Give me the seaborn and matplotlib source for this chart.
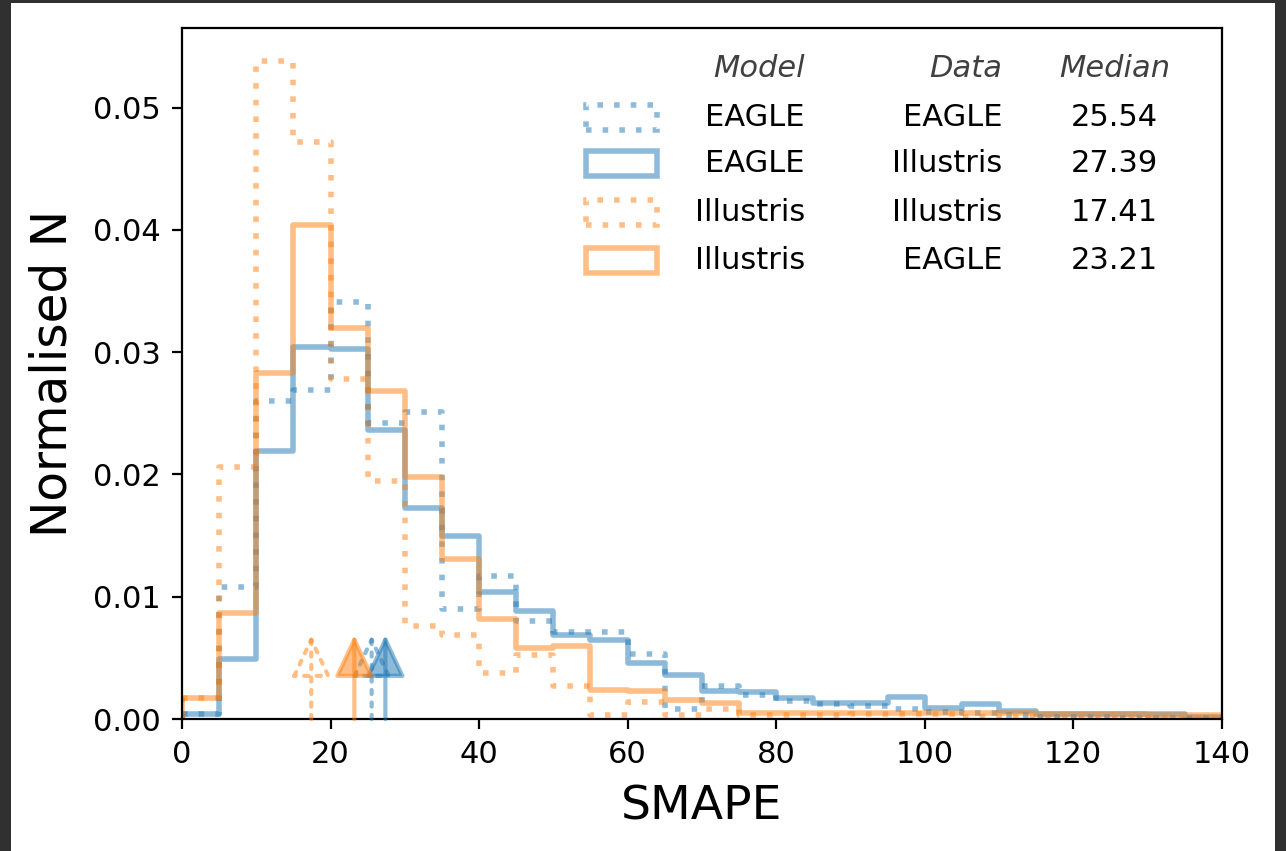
import numpy as np
import pandas as pd
import matplotlib
matplotlib.use("Agg")
import matplotlib.pyplot as plt
from matplotlib.patches import Rectangle
import seaborn as sns

# ---- data (normalised bin heights, bins of width 5 from 0 to 140) ----
bin_edges = list(range(0, 145, 5))
eagle_eagle = [0.0004, 0.0108, 0.0260, 0.0269, 0.0341, 0.0242, 0.0251, 0.0090,
               0.0117, 0.0080, 0.0071, 0.0071, 0.0053, 0.0008, 0.0027, 0.0020,
               0.0015, 0.0012, 0.0011, 0.0008, 0.0006, 0.0005, 0.0003, 0.0002,
               0.0002, 0.0001, 0.0001, 0.0001]
eagle_illustris = [0.0004, 0.0049, 0.0219, 0.0304, 0.0303, 0.0236, 0.0173, 0.0150,
                   0.0104, 0.0088, 0.0069, 0.0065, 0.0046, 0.0036, 0.0023, 0.0022,
                   0.0017, 0.0013, 0.0013, 0.0018, 0.0009, 0.0012, 0.0007, 0.0004,
                   0.0004, 0.0004, 0.0004, 0.0002]
illustris_illustris = [0.0017, 0.0206, 0.0538, 0.0472, 0.0278, 0.0195, 0.0076, 0.0069,
                       0.0038, 0.0052, 0.0027, 0.0003, 0.0014, 0.0003, 0.0008, 0.0003,
                       0.0003, 0.0003, 0.0004, 0.0004, 0.0004, 0.0002, 0.0002, 0.0001,
                       0.0001, 0.0001, 0.0001, 0.0001]
illustris_eagle = [0.0017, 0.0087, 0.0283, 0.0404, 0.0320, 0.0268, 0.0198, 0.0131,
                   0.0082, 0.0058, 0.0060, 0.0024, 0.0023, 0.0016, 0.0013, 0.0005,
                   0.0005, 0.0005, 0.0005, 0.0005, 0.0005, 0.0005, 0.0005, 0.0004,
                   0.0004, 0.0004, 0.0003, 0.0003]

models = ["EAGLE", "EAGLE", "Illustris", "Illustris"]
datas = ["EAGLE", "Illustris", "Illustris", "EAGLE"]
medians = [25.54, 27.39, 17.41, 23.21]
series = [eagle_eagle, eagle_illustris, illustris_illustris, illustris_eagle]

blue = "#1f77b4"
orange = "#ff7f0e"
colors = [blue, blue, orange, orange]
dotted = (0, (1, 2))
styles = [dotted, "-", dotted, "-"]
LW = 4.0
ALPHA = 0.5

fig = plt.figure(figsize=(12.86, 8.51), dpi=100)
ax = fig.add_axes([0.1415, 0.155, 0.8085, 0.812])

edges = np.array(bin_edges, dtype=float)
centers = (edges[:-1] + edges[1:]) / 2
for vals, c, ls in zip(series, colors, styles):
    df = pd.DataFrame({"x": centers, "w": vals})
    sns.histplot(data=df, x="x", weights="w", bins=bin_edges, element="step",
                 fill=False, color=c, linestyle=ls, linewidth=LW, alpha=ALPHA,
                 ax=ax, stat="count")
    # close the step outline down to zero at both ends
    ax.vlines([edges[0], edges[-1]], 0, [vals[0], vals[-1]], colors=c,
              linestyles=ls, linewidth=LW, alpha=ALPHA)

# median arrows
for m, c, ls in zip(medians, colors, styles):
    fc = "none" if ls == dotted else c
    ax.annotate("", xy=(m, 0.0069), xytext=(m, 0.0),
                arrowprops=dict(arrowstyle="-|>,head_width=0.68,head_length=1.45",
                                mutation_scale=18, linewidth=3.0, linestyle=ls,
                                edgecolor=c, facecolor=fc, alpha=ALPHA,
                                shrinkA=0, shrinkB=0))

ax.set_xlim(0, 140)
ax.set_ylim(0, 0.0565)
ax.set_xticks([0, 20, 40, 60, 80, 100, 120, 140])
ax.set_yticks([0.0, 0.01, 0.02, 0.03, 0.04, 0.05])
ax.set_yticklabels(["0.00", "0.01", "0.02", "0.03", "0.04", "0.05"])
ax.tick_params(labelsize=22, width=1.6, length=7, pad=8)
for s in ax.spines.values():
    s.set_linewidth(1.6)
ax.set_xlabel("SMAPE", fontsize=34, labelpad=11)
ax.set_ylabel("Normalised N", fontsize=35, labelpad=12)

# custom table-style legend
hx, hw, hh = 0.389, 0.068, 0.036
rows_y = [0.871, 0.804, 0.733, 0.664]
head_y = 0.941
hdr_kw = dict(transform=ax.transAxes, fontsize=22, style="italic",
              color="#404040", va="center")
ax.text(0.599, head_y, "Model", ha="right", **hdr_kw)
ax.text(0.789, head_y, "Data", ha="right", **hdr_kw)
ax.text(0.897, head_y, "Median", ha="center", **hdr_kw)
for y, c, ls, mo, da, me in zip(rows_y, colors, styles, models, datas, medians):
    ax.add_patch(Rectangle((hx, y - hh / 2), hw, hh, transform=ax.transAxes,
                           facecolor="none", edgecolor=c, linestyle=ls,
                           linewidth=LW, alpha=ALPHA, clip_on=False))
    kw = dict(transform=ax.transAxes, fontsize=22, va="center", color="black")
    ax.text(0.599, y, mo, ha="right", **kw)
    ax.text(0.789, y, da, ha="right", **kw)
    ax.text(0.897, y, f"{me:.2f}", ha="center", **kw)

# dark screenshot frame
frame = "#303030"
fig.patches.append(Rectangle((0, 0), 11 / 1286, 1, transform=fig.transFigure,
                             facecolor=frame, edgecolor="none", zorder=10))
fig.patches.append(Rectangle((1275 / 1286, 0), 11 / 1286, 1, transform=fig.transFigure,
                             facecolor=frame, edgecolor="none", zorder=10))
fig.patches.append(Rectangle((0, 1 - 3 / 851), 1, 3 / 851, transform=fig.transFigure,
                             facecolor=frame, edgecolor="none", zorder=10))

fig.savefig("out.png", dpi=100)
